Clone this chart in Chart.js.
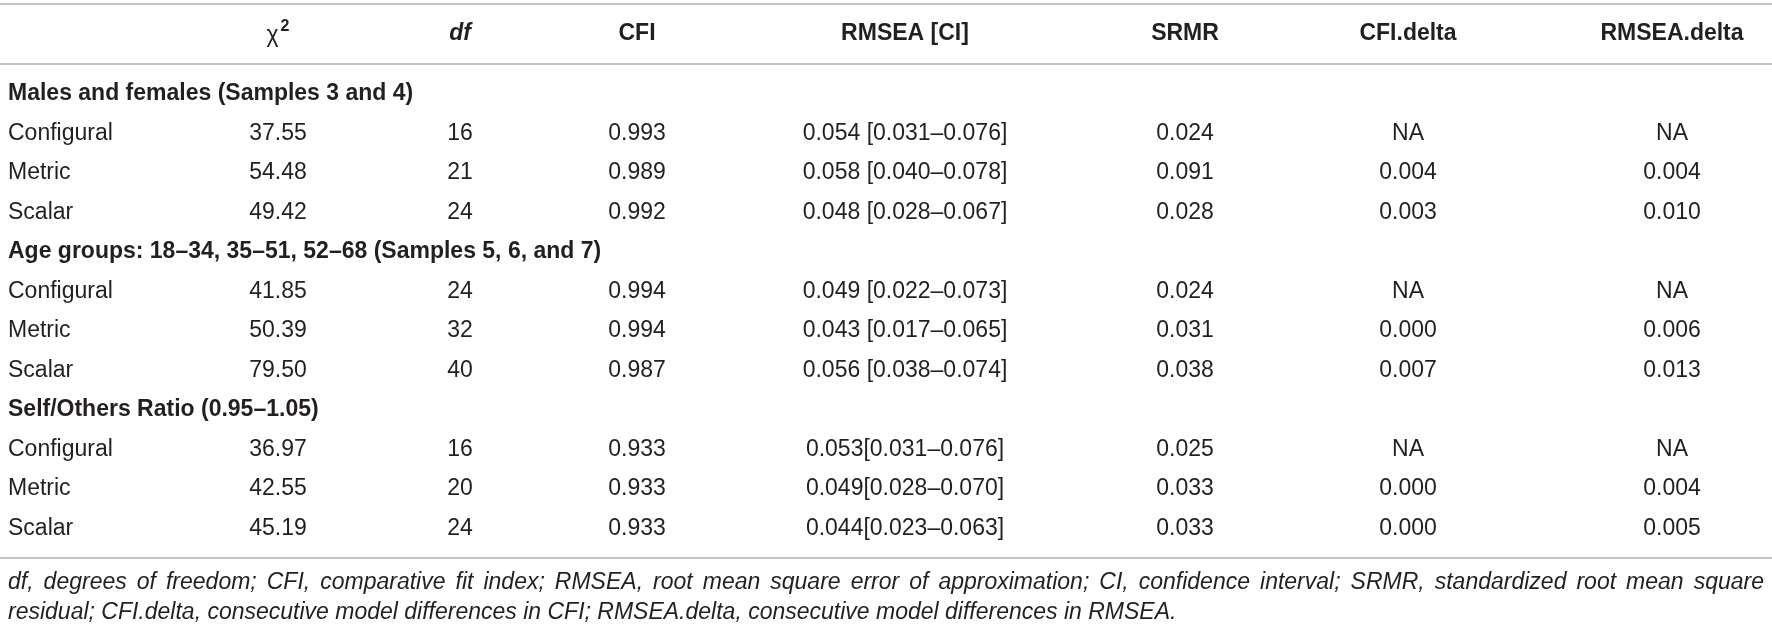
<!DOCTYPE html>
<html>
<head>
<meta charset="utf-8">
<script src="https://cdn.jsdelivr.net/npm/chart.js@4.4.1/dist/chart.umd.min.js"></script>
<style>
  html, body { margin: 0; padding: 0; background: #fff; }
  #wrap { width: 1772px; height: 628px; }
</style>
</head>
<body>
<div id="wrap"><canvas id="fitTable"></canvas></div>
<script>
// Table content
const headers = ['χ', 'df', 'CFI', 'RMSEA [CI]', 'SRMR', 'CFI.delta', 'RMSEA.delta'];
const groups = [
  'Males and females (Samples 3 and 4)',
  'Age groups: 18–34, 35–51, 52–68 (Samples 5, 6, and 7)',
  'Self/Others Ratio (0.95–1.05)'
];
const models = ['Configural', 'Metric', 'Scalar'];

// one value per model row, 3 groups x 3 models
const chiSq = [37.55, 54.48, 49.42, 41.85, 50.39, 79.50, 36.97, 42.55, 45.19];
const dfs = [16, 21, 24, 24, 32, 40, 16, 20, 24];
const cfi = [0.993, 0.989, 0.992, 0.994, 0.994, 0.987, 0.933, 0.933, 0.933];
const rmsea = [0.054, 0.058, 0.048, 0.049, 0.043, 0.056, 0.053, 0.049, 0.044];
const ciLow = [0.031, 0.040, 0.028, 0.022, 0.017, 0.038, 0.031, 0.028, 0.023];
const ciHigh = [0.076, 0.078, 0.067, 0.073, 0.065, 0.074, 0.076, 0.070, 0.063];
const srmr = [0.024, 0.091, 0.028, 0.024, 0.031, 0.038, 0.025, 0.033, 0.033];
const cfiDelta = [null, 0.004, 0.003, null, 0.000, 0.007, null, 0.000, 0.000];
const rmseaDelta = [null, 0.004, 0.010, null, 0.006, 0.013, null, 0.004, 0.005];

const footnote = [
  'df, degrees of freedom; CFI, comparative fit index; RMSEA, root mean square error of approximation; CI, confidence interval; SRMR, standardized root mean square',
  'residual; CFI.delta, consecutive model differences in CFI; RMSEA.delta, consecutive model differences in RMSEA.'
];

// Layout (pixels / row units)
const W = 1772, H = 628;
const colX = [8, 278, 460, 637, 905, 1185, 1408, 1672];
const ROW_PX = 39.5, FIRST_ROW_PX = 94;
const HEADER_ROW = -1.52;
const RULE_ROWS = [-2.28, -0.76, 11.74];
const FOOT_ROWS = [12.38, 13.14];

const FAMILY = '"Liberation Sans", Arial, Helvetica, sans-serif';
const TEXT = '#231f20';

const fmt = (v, d) => v === null ? 'NA' : v.toFixed(d);

// row index of each model line and of each group title
const modelRows = [];
const groupRows = [];
groups.forEach((g, gi) => {
  groupRows.push(gi * 4);
  models.forEach((m, mi) => modelRows.push(gi * 4 + 1 + mi));
});
const modelNames = modelRows.map((r, i) => models[i % 3]);
const rmseaText = rmsea.map((v, i) =>
  fmt(v, 3) + (i >= 6 ? '' : ' ') + '[' + fmt(ciLow[i], 3) + '–' + fmt(ciHigh[i], 3) + ']');

const valueCols = [
  chiSq.map(v => fmt(v, 2)),
  dfs.map(v => String(v)),
  cfi.map(v => fmt(v, 3)),
  rmseaText,
  srmr.map(v => fmt(v, 3)),
  cfiDelta.map(v => fmt(v, 3)),
  rmseaDelta.map(v => fmt(v, 3))
];

const datasets = [];
// column headers
datasets.push({
  label: 'headers',
  data: headers.map((h, j) => ({ x: colX[j + 1], y: HEADER_ROW })),
  texts: headers,
  fonts: headers.map((h, j) => j === 1 ? 'italic bold 23px ' + FAMILY : (j === 0 ? '23px ' + FAMILY : 'bold 23px ' + FAMILY)),
  sup: headers.map((h, j) => j === 0 ? '2' : null),
  align: 'center'
});
// group titles
datasets.push({
  label: 'groups',
  data: groupRows.map(r => ({ x: colX[0], y: r })),
  texts: groups,
  font: 'bold 23px ' + FAMILY,
  align: 'left'
});
// model names
datasets.push({
  label: 'models',
  data: modelRows.map(r => ({ x: colX[0], y: r })),
  texts: modelNames,
  font: '23px ' + FAMILY,
  align: 'left'
});
// value columns
valueCols.forEach((col, j) => {
  datasets.push({
    label: headers[j],
    data: modelRows.map(r => ({ x: colX[j + 1], y: r })),
    texts: col,
    font: '23px ' + FAMILY,
    align: 'center'
  });
});
datasets.forEach(ds => { ds.pointRadius = 0; ds.pointHoverRadius = 0; });

const cellText = {
  id: 'cellText',
  afterDatasetsDraw(chart) {
    const ctx = chart.ctx;
    const { left, right } = chart.chartArea;
    const yScale = chart.scales.y;
    ctx.save();

    // horizontal rules
    ctx.strokeStyle = '#c2c2c2';
    ctx.lineWidth = 2;
    RULE_ROWS.forEach(r => {
      const py = Math.round(yScale.getPixelForValue(r));
      ctx.beginPath();
      ctx.moveTo(left, py);
      ctx.lineTo(right, py);
      ctx.stroke();
    });

    // cells
    ctx.fillStyle = TEXT;
    ctx.textBaseline = 'middle';
    chart.data.datasets.forEach((ds, i) => {
      const meta = chart.getDatasetMeta(i);
      meta.data.forEach((pt, k) => {
        const font = ds.fonts ? ds.fonts[k] : ds.font;
        const sup = ds.sup ? ds.sup[k] : null;
        ctx.font = font;
        if (sup) {
          const baseW = ctx.measureText(ds.texts[k]).width;
          ctx.font = 'bold 16px ' + FAMILY;
          const supW = ctx.measureText(sup).width;
          const x0 = pt.x - (baseW + supW + 2) / 2;
          ctx.textAlign = 'left';
          ctx.font = font;
          ctx.fillText(ds.texts[k], x0, pt.y + 2);
          ctx.font = 'bold 16px ' + FAMILY;
          ctx.fillText(sup, x0 + baseW + 2, pt.y - 7);
        } else {
          ctx.textAlign = ds.align;
          ctx.fillText(ds.texts[k], pt.x, pt.y);
        }
      });
    });

    // footnote, first line justified
    ctx.font = 'italic 23px ' + FAMILY;
    ctx.textAlign = 'left';
    const x0 = left + colX[0];
    const x1 = right - 8;
    footnote.forEach((line, li) => {
      const py = yScale.getPixelForValue(FOOT_ROWS[li]);
      if (li === 0) {
        const words = line.split(' ');
        const widths = words.map(w => ctx.measureText(w).width);
        const total = widths.reduce((a, b) => a + b, 0);
        const gap = (x1 - x0 - total) / (words.length - 1);
        let x = x0;
        words.forEach((w, wi) => { ctx.fillText(w, x, py); x += widths[wi] + gap; });
      } else {
        ctx.fillText(line, x0, py);
      }
    });
    ctx.restore();
  }
};

const yMin = -FIRST_ROW_PX / ROW_PX;
const yMax = yMin + H / ROW_PX;

new Chart(document.getElementById('fitTable'), {
  type: 'scatter',
  data: { datasets },
  options: {
    responsive: true,
    maintainAspectRatio: false,
    animation: false,
    events: [],
    layout: { padding: 0 },
    scales: {
      x: { type: 'linear', min: 0, max: W, display: false },
      y: { type: 'linear', min: yMin, max: yMax, reverse: true, display: false }
    },
    plugins: {
      legend: { display: false },
      tooltip: { enabled: false }
    }
  },
  plugins: [cellText]
});
</script>
</body>
</html>
